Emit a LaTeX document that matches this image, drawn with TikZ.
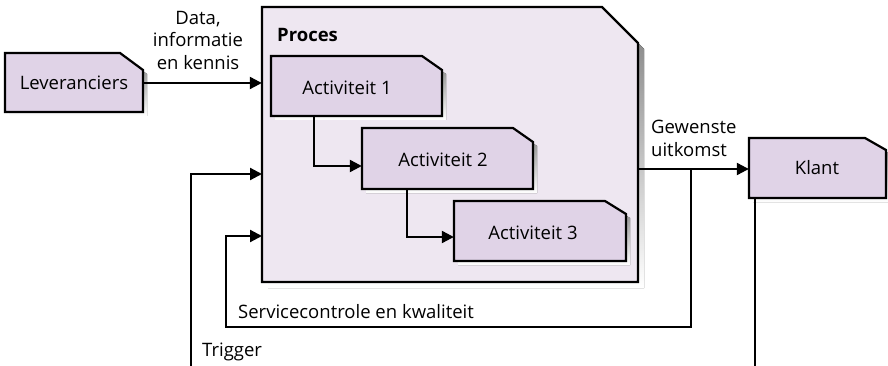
\documentclass[tikz,border=0pt]{standalone}
\usepackage{fontspec}
\setmainfont{Open Sans}
\usetikzlibrary{arrows.meta,fit,calc}
\definecolor{procfill}{HTML}{EEE7F1}
\definecolor{actfill}{HTML}{E0D3E7}
\definecolor{shade}{HTML}{AF8FBF}
\tikzset{
  boxline/.style={draw=black, line width=2.2pt, line join=miter},
  plain/.style={line width=2.2pt},
  conn/.style={plain, -{Triangle[length=12pt,width=12pt]}},
  lbl/.style={font=\fontsize{18.5}{22.5}\selectfont, inner sep=0pt},
}
% #1 name, (#2,#3) top left, (#4,#5) bottom right, #6 x #7 cut corner,
% #8 shadow offset, #9 fill colour
\newcommand\chbox[9]{%
  \fill[shade, xshift=#8pt, yshift=-#8pt]
    (#2,#3) -- ({#4-#6},#3) -- (#4,{#3+#7}) -- (#4,#5) -- (#2,#5) -- cycle;
  \filldraw[boxline, fill=#9]
    (#2,#3) -- ({#4-#6},#3) -- (#4,{#3+#7}) -- (#4,#5) -- (#2,#5) -- cycle;
  \node[fit={(#2,#3) (#4,#5)}, inner sep=0pt] (#1) {};
}
\begin{document}
\begin{tikzpicture}[x=1pt,y=-1pt]
  \useasboundingbox (0,0) rectangle (888,366);

  % boxes
  \chbox{lev}{5}{53}{143}{112}{23}{17}{4}{actfill}
  \chbox{proc}{262}{7}{638}{282}{36}{36}{6}{procfill}
  \chbox{act1}{271}{56}{442}{116}{20}{14}{4}{actfill}
  \chbox{act2}{362}{128}{533}{189}{20}{14}{4}{actfill}
  \chbox{act3}{454}{201}{626}{261}{21}{13}{4}{actfill}
  \chbox{klant}{749}{138}{886}{198}{21}{12}{4}{actfill}

  % box texts
  \node[lbl] (tlev) at (74,83) {Leveranciers};
  \node[lbl, anchor=base west] (tproc) at (277,42) {\bfseries Proces};
  \node[lbl] (tact1) at (347,88) {Activiteit 1};
  \node[lbl] (tact2) at (443,160) {Activiteit 2};
  \node[lbl] (tact3) at (533,233) {Activiteit 3};
  \node[lbl] (tklant) at (817,168) {Klant};

  % junctions and loose ends
  \coordinate (a1down) at (314,116);
  \coordinate (a1turn) at (314,166);
  \coordinate (a2down) at (407,189);
  \coordinate (a2turn) at (407,237);
  \coordinate (outsplit) at (691,169);
  \coordinate (scBottom) at (691,327);
  \coordinate (scLeft) at (226,327);
  \coordinate (scIn) at (262,236);
  \coordinate (trigStart) at (191,366);
  \coordinate (trigIn) at (262,174);
  \coordinate (klantEnd) at (755,366);
  \coordinate (klantTop) at (755,198);

  % connectors
  \draw[conn] (lev.east |- 0,83) -- (proc.west |- 0,83);
  \draw[conn] (a1down) -- (a1turn) -- (act2.west |- a1turn);
  \draw[conn] (a2down) -- (a2turn) -- (act3.west |- a2turn);
  \draw[conn] (proc.east |- outsplit) -- (klant.west |- outsplit);
  \draw[conn] (outsplit) -- (scBottom) -- (scLeft) |- (scIn);
  \draw[conn] (trigStart) |- (trigIn);
  \draw[plain] (klantTop) -- (klantEnd);

  % connector labels
  \node[lbl, align=center] (ldata) at (198,40) {Data,\\informatie\\en kennis};
  \node[lbl, align=left, anchor=north west] (lout) at (651,120) {Gewenste\\uitkomst};
  \node[lbl, anchor=base west] (lsc) at (238,318) {Servicecontrole en kwaliteit};
  \node[lbl, anchor=base west] (ltrig) at (202,356) {Trigger};
\end{tikzpicture}
\end{document}
